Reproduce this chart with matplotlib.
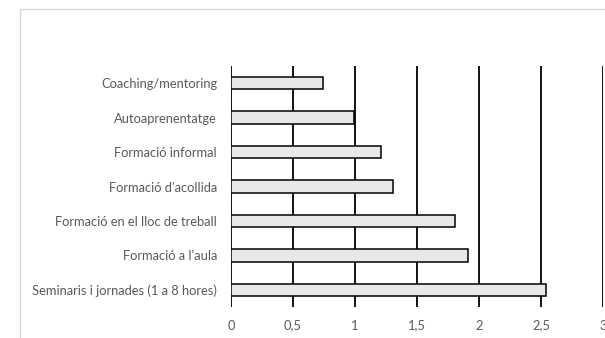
import matplotlib.pyplot as plt
from matplotlib.patches import Rectangle

categories = [
    "Seminaris i jornades (1 a 8 hores)",
    "Formació a l'aula",
    "Formació en el lloc de treball",
    "Formació d'acollida",
    "Formació informal",
    "Autoaprenentatge",
    "Coaching/mentoring",
]
values = [2.54, 1.91, 1.81, 1.31, 1.21, 0.99, 0.74]
xticks = [0, 0.5, 1, 1.5, 2, 2.5, 3]
xtick_labels = ["0", "0,5", "1", "1,5", "2", "2,5", "3"]

plt.rcParams['font.family'] = ['Lato', 'DejaVu Sans']
grey = '#595959'

fig = plt.figure(figsize=(6.05, 3.38), dpi=100)
# light frame of the chart area
fig.patches.append(Rectangle((20 / 605, -0.1), 1.0, 1 - 9 / 338 + 0.1,
                             transform=fig.transFigure, fill=False,
                             edgecolor='#d9d9d9', linewidth=1.0))

ax = fig.add_axes([231 / 605, 31 / 338, 372 / 605, 241 / 338])
y = range(len(categories))
ax.barh(y, values, height=0.36, color='#e8e8e8', edgecolor='black',
        linewidth=1.1, zorder=3)

ax.set_xlim(0, 3)
ax.set_ylim(-0.5, len(categories) - 0.5)
ax.set_xticks(xticks)
ax.set_xticklabels(xtick_labels)
ax.set_yticks(list(y))
ax.set_yticklabels(categories)

ax.grid(axis='x', color='black', linewidth=1.3, zorder=0)
ax.set_axisbelow(True)
for s in ax.spines.values():
    s.set_visible(False)
ax.tick_params(axis='both', length=0, colors=grey, labelsize=9.3)
ax.tick_params(axis='x', pad=9)
ax.tick_params(axis='y', pad=10)

fig.savefig('out.png', dpi=100)
